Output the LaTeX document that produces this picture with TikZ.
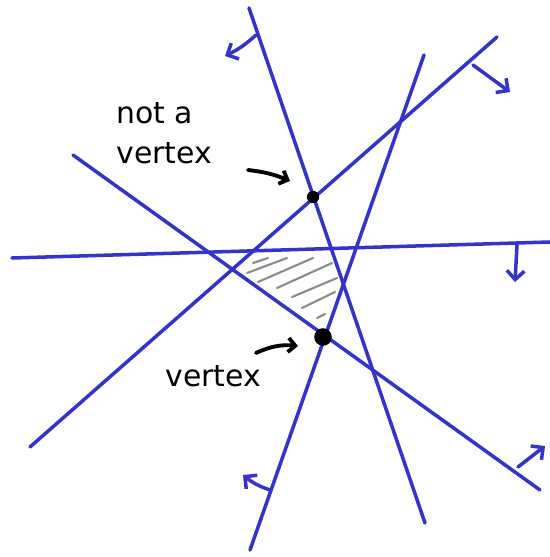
\documentclass[tikz,border=0pt]{standalone}
\usepackage{fontspec}
\setmainfont{DejaVu Sans}
\usetikzlibrary{arrows.meta}
\definecolor{penblue}{RGB}{52,52,204}
\definecolor{hatchgray}{RGB}{140,140,140}

\begin{document}
\begin{tikzpicture}[x=0.02cm, y=-0.02cm,
  halfline/.style={penblue, line width=2pt, line cap=round},
  normal/.style={penblue, line width=2pt, line cap=round, -{Straight Barb[length=5pt, width=10pt]}},
  pointer/.style={black, line width=2.2pt, line cap=round, -{Straight Barb[length=4pt, width=8pt]}},
  hatch/.style={hatchgray, line width=1.2pt, line cap=round},
  label/.style={font=\fontsize{17}{23}\selectfont, align=left, inner sep=0pt}
]
  \useasboundingbox (0,0) rectangle (550,557);
  % half-planes
  \draw[halfline] (249,8) -- (425,523);
  \draw[halfline] (30,447) -- (497,37);
  \draw[halfline] (12,258) -- (550,242);
  \draw[halfline] (73,155) -- (540,490);
  \draw[halfline] (424,55) -- (250,550);
  \draw[normal] (256,35) to[bend left=8] (225,56);
  \draw[normal] (473,65) -- (510,92);
  \draw[normal] (517,245) -- (515,282);
  \draw[normal] (518,467) -- (545,446);
  \draw[normal] (270,490) to[bend left=10] (243,475);
  % feasible region
  \draw[hatch] (253,263) -- (268,258);
  \draw[hatch] (247,273) -- (287,258);
  \draw[hatch] (258,282) -- (313,258);
  \draw[hatch] (277,288) -- (332,263);
  \draw[hatch] (292,297) -- (337,278);
  \draw[hatch] (302,308) -- (335,292);
  \draw[hatch] (317,318) -- (325,314);
  % points
  \coordinate (nv) at (313,197);
  \coordinate (v) at (323,337);
  \fill (nv) circle (3.5pt);
  \fill (v) circle (5pt);
  \node[label, anchor=north west] (nvlabel) at (116,102) {not a\\vertex};
  \node[label, anchor=west] (vlabel) at (165,376) {vertex};
  \coordinate (nvtail) at (248,170);
  \coordinate (nvtip) at (290,181);
  \coordinate (vtail) at (256,353);
  \coordinate (vtip) at (298,346);
  \draw[pointer] (nvtail) to[bend left=8] (nvtip);
  \draw[pointer] (vtail) to[bend left=15] (vtip);
\end{tikzpicture}
\end{document}
